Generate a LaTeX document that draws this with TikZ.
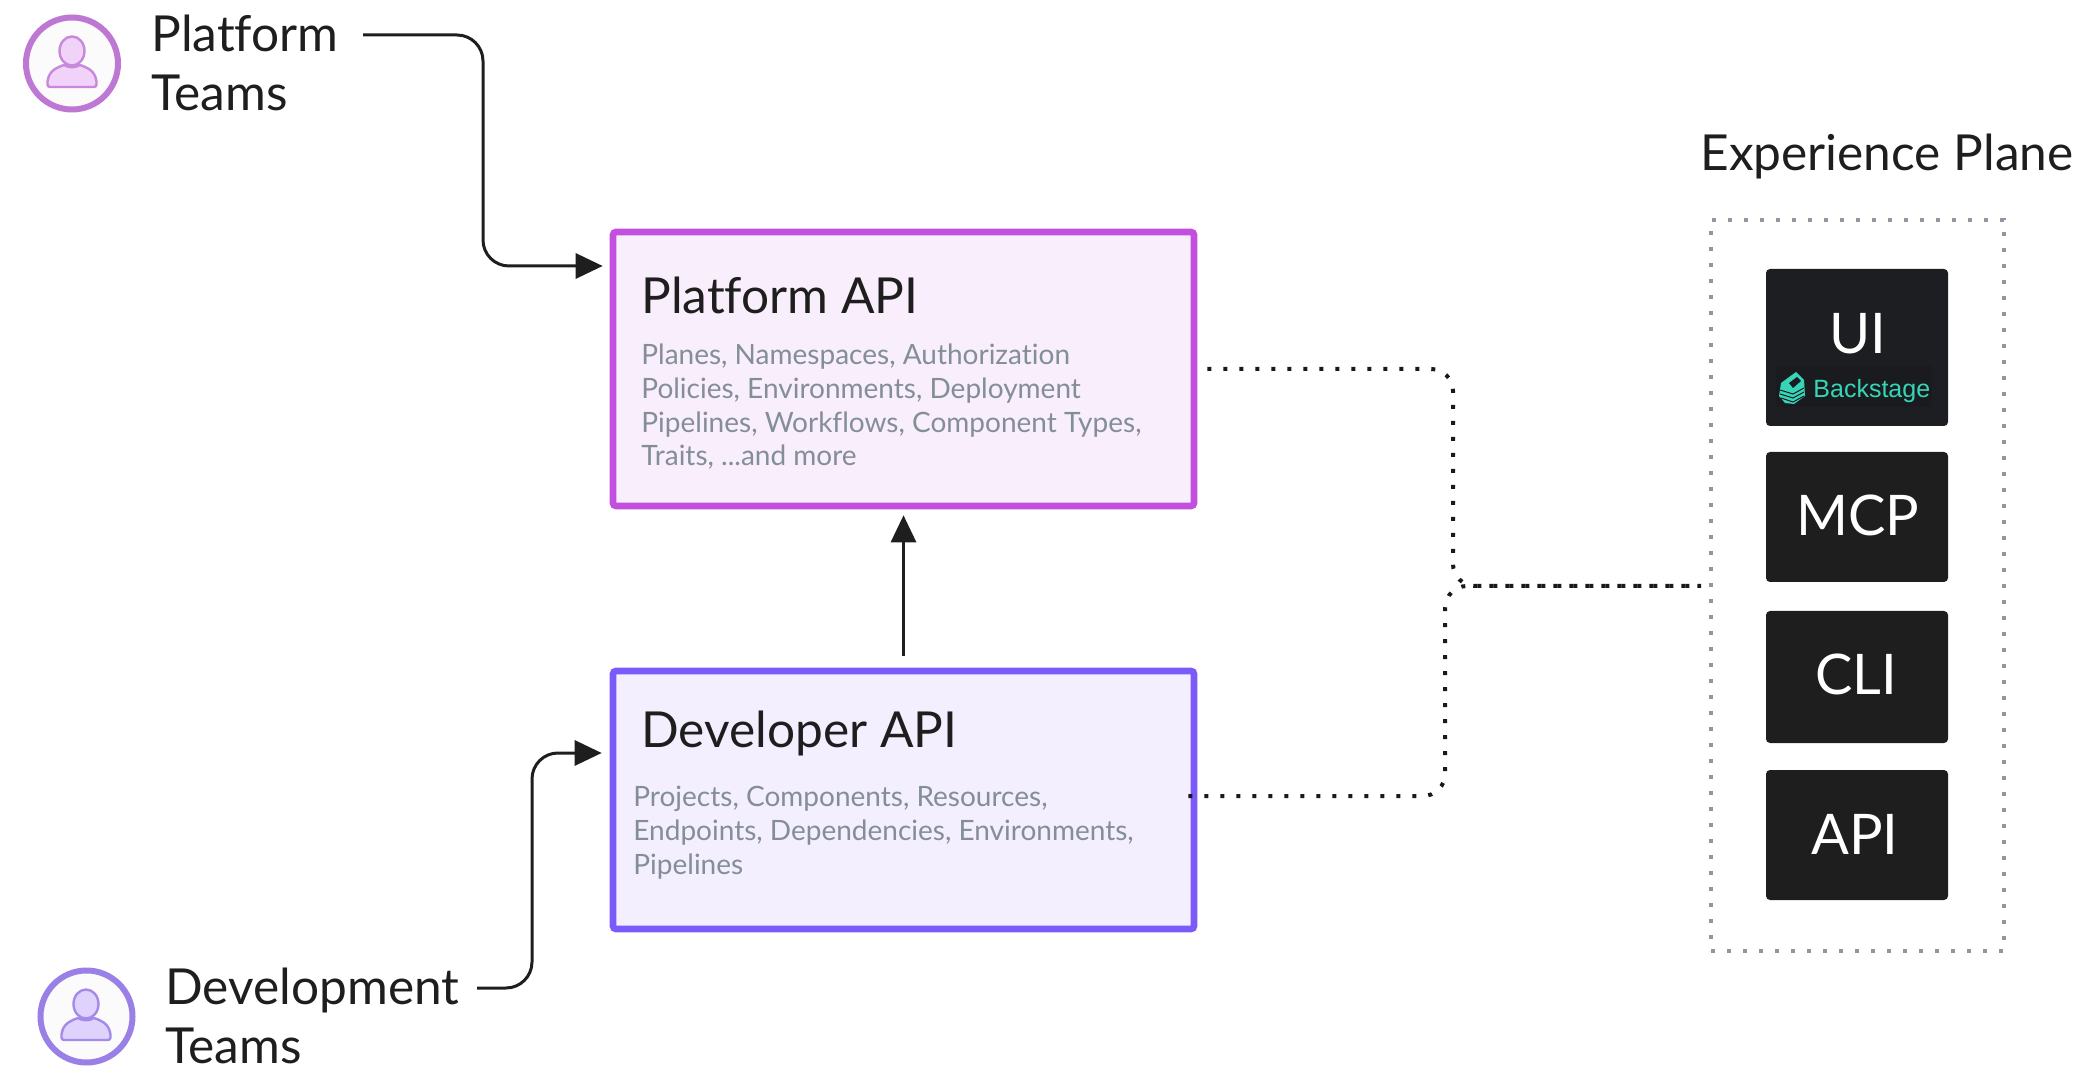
\documentclass[tikz,border=0pt]{standalone}
\usepackage{fontspec}
\setmainfont{Lato}[Ligatures=NoCommon]
\newfontfamily\logofont{Liberation Sans}
\usetikzlibrary{arrows.meta}
\definecolor{ink}{HTML}{1E1E1E}
\definecolor{plat}{HTML}{C24FDD}
\definecolor{platfill}{HTML}{F9EEFC}
\definecolor{devc}{HTML}{7A5AF8}
\definecolor{devfill}{HTML}{F3EFFE}
\definecolor{bodygray}{HTML}{838E98}
\definecolor{planegray}{HTML}{8D98A3}
\definecolor{panel}{HTML}{1E1E1E}
\definecolor{uipanel}{HTML}{1C1E21}
\definecolor{teal}{HTML}{37D5B8}
\definecolor{logobg}{HTML}{191B1E}
\definecolor{platring}{HTML}{BE78D4}
\definecolor{devring}{HTML}{9A80E6}
\definecolor{platglyph}{HTML}{F1D2F8}
\definecolor{platedge}{HTML}{C888DC}
\definecolor{devglyph}{HTML}{DFD2FC}
\definecolor{devedge}{HTML}{A48AEA}
\newcommand{\personglyph}[4]{%
  \begin{scope}[shift={(#1,#2)},line width=1.2pt,draw=#3,fill=#4]
    \filldraw (-22,24) .. controls (-25,24) and (-25,20) .. (-24,16)
      .. controls (-22,7) and (-14,4) .. (-8,2)
      .. controls (-3,5) and (3,5) .. (8,2)
      .. controls (14,4) and (22,7) .. (24,16)
      .. controls (25,20) and (25,24) .. (22,24) -- cycle;
    \filldraw (0,-12) ellipse [x radius=12.5,y radius=14.5];
  \end{scope}}
\tikzset{
  x=0.5pt,y=-0.5pt,
  apibox/.style={rectangle,line width=3.3pt,rounded corners=1.5pt,minimum width=290.5pt,inner sep=0pt},
  panelbox/.style={rectangle,fill=panel,draw=none,rounded corners=2pt,minimum width=91pt,inner sep=0pt},
  panellabel/.style={text=white,font=\fontsize{28}{34}\selectfont,anchor=base,inner sep=0pt},
  headlabel/.style={text=ink,font=\fontsize{24.8}{29.5}\selectfont,anchor=base west,inner sep=0pt,align=left},
  bodytext/.style={text=bodygray,font=\fontsize{14}{16.9}\selectfont,anchor=base west,inner sep=0pt,align=left},
  avatar/.style={circle,line width=3pt,fill=white!97!gray,minimum size=46pt,inner sep=0pt},
  flow/.style={draw=ink,line width=1.5pt,rounded corners=13pt,-{Triangle[length=13.5pt,width=12.5pt,fill=ink]}},
  dotlink/.style={draw=black!90,line width=2pt,rounded corners=11pt,dash pattern=on 2pt off 6pt},
}
\begin{document}
\begin{tikzpicture}
\useasboundingbox (0,0) rectangle (2081,1068);
% avatars
\node[avatar,draw=platring] (pavatar) at (72,63.5) {};
\personglyph{72}{63}{platedge}{platglyph}
\node[avatar,draw=devring] (davatar) at (86.5,1016.5) {};
\personglyph{86}{1016}{devedge}{devglyph}
% team labels
\node[headlabel] (pteam) at (151,111) {Platform\\Teams};
\node[headlabel] (dteam) at (165,1063) {Development\\Teams};
% API boxes
\node[apibox,draw=plat,fill=platfill,minimum height=137pt] (pbox) at (903.5,369) {};
\node[apibox,draw=devc,fill=devfill,minimum height=129pt] (dbox) at (903.5,800) {};
\node[headlabel] (ptitle) at (641,313.5) {Platform API};
\node[bodytext] (pbody) at (641,466) {Planes, Namespaces, Authorization\\Policies, Environments, Deployment\\Pipelines, Workflows, Component Types,\\Traits, ...and more};
\node[headlabel] (dtitle) at (641,747.5) {Developer API};
\node[bodytext] (dbody) at (633,874) {Projects, Components, Resources,\\Endpoints, Dependencies, Environments,\\Pipelines};
% experience plane
\node[headlabel] (xtitle) at (1700,171) {Experience Plane};
\node[rectangle,draw=planegray,line width=1.7pt,dash pattern=on 2.2pt off 5.8pt,minimum width=146.5pt,minimum height=365.5pt,inner sep=0pt,outer sep=0pt] (xbox) at (1857.5,585.5) {};
\node[panelbox,fill=uipanel,minimum height=78.5pt] (ui) at (1857,347.5) {};
\node[panelbox,minimum height=65pt] (mcp) at (1857,517) {};
\node[panelbox,minimum height=66pt] (cli) at (1857,677) {};
\node[panelbox,minimum height=65pt] (api) at (1857,835) {};
\node[panellabel] (uilabel) at (1858,354) {UI};
\node[panellabel] (mcplabel) at (1858,536) {MCP};
\node[panellabel] (clilabel) at (1856,694) {CLI};
\node[panellabel] (apilabel) at (1855,854) {API};
% Backstage logo
\fill[logobg] (1776,366) rectangle (1932,407);
\begin{scope}
  \fill[teal] (1781,383) -- (1796,372) -- (1804,380) -- (1805,396) -- (1794,404) -- (1785,403) -- (1779,396) -- cycle;
  \fill[logobg] (1789,383) -- (1797,377) -- (1801,381) -- (1793,388) -- cycle;
  \draw[logobg,line width=0.5pt] (1780,390) -- (1793,394) -- (1804,388)
     (1780,394) -- (1793,398) -- (1804,392)
     (1781,398) -- (1793,402) -- (1804,396);
\end{scope}
\node[inner sep=0pt,anchor=base west,text=teal,font=\logofont\fontsize{12.5}{15}\selectfont] (backstage) at (1813,398) {Backstage};
% connectors
\coordinate (pout) at (363,35);
\coordinate (pin) at (pbox.west |- {0,266});
\coordinate (dout) at (477,988);
\coordinate (din) at (dbox.west |- {0,753});
\coordinate (pport) at (pbox.east |- {0,369});
\coordinate (dport) at (dbox.east |- {0,796});
\coordinate (xport) at (xbox.west |- {0,586});
\draw[flow,shorten >=3.5pt] (pout) -- (483,35) -- (483,266) -- (pin);
\draw[flow,shorten >=4pt] (dout) -- (532,988) -- (532,753) -- (din);
\draw[flow,rounded corners=0pt,shorten <=6pt,shorten >=3pt] (dbox.north) -- (pbox.south);
\draw[dotlink,shorten <=5pt,shorten >=5pt] (pport) -- (1453,369) -- (1453,586) -- (xport);
\draw[dotlink,dash phase=8pt,shorten <=-4.5pt,shorten >=5pt] (dport) -- (1445,796) -- (1445,586) -- (xport);
\end{tikzpicture}
\end{document}
